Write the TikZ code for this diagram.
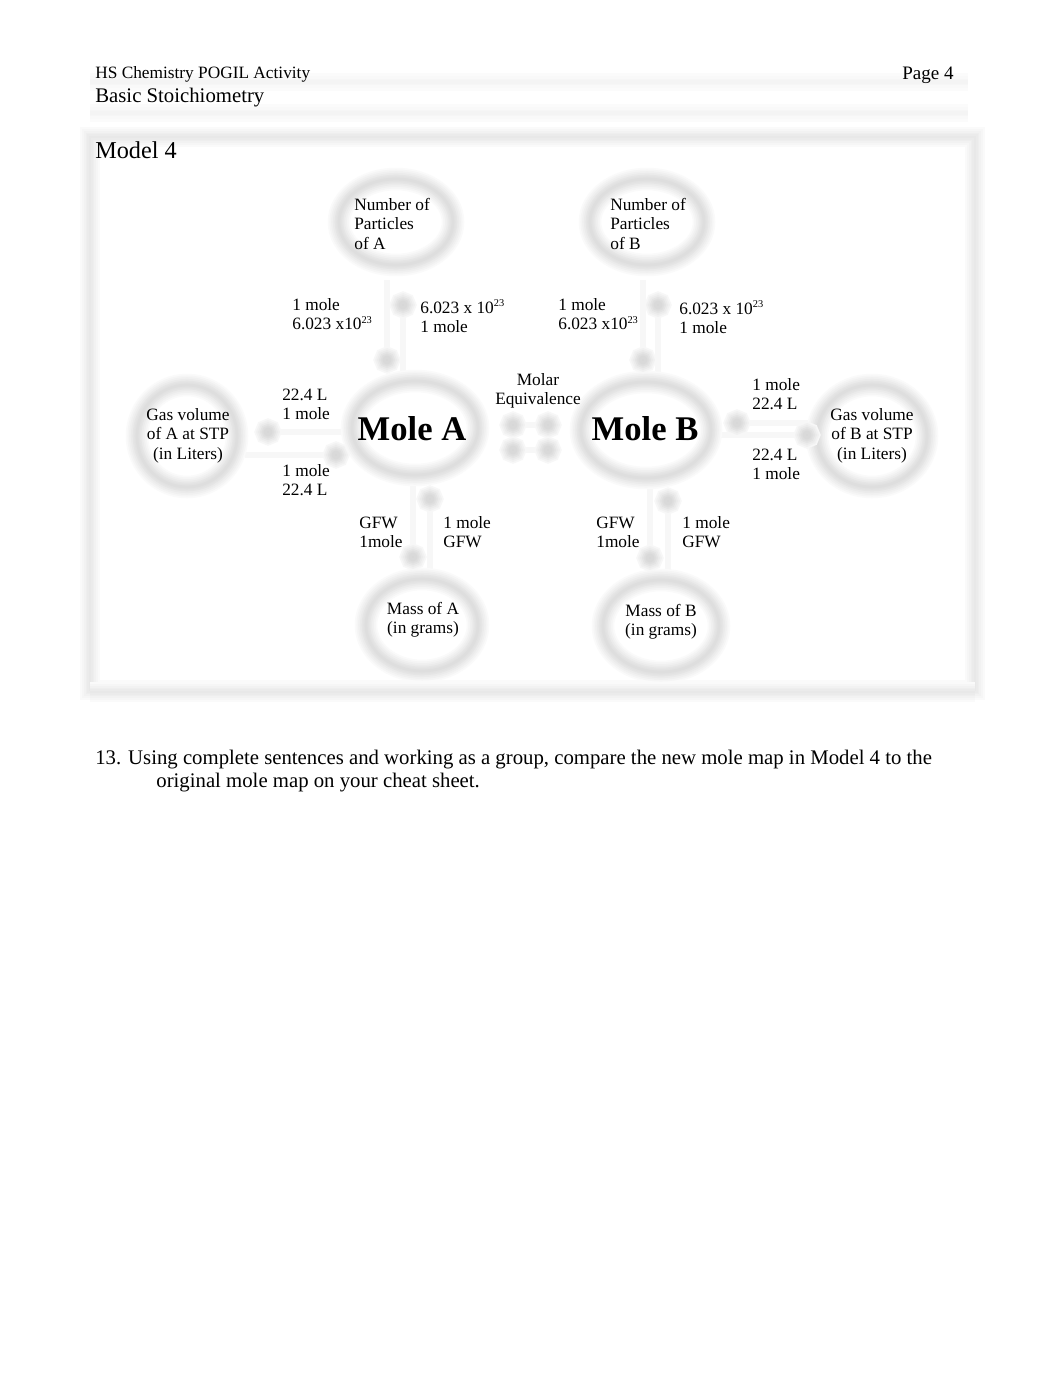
\documentclass[tikz,border=0pt]{standalone}
\usepackage{fontspec}
\setmainfont{Liberation Serif}
\usetikzlibrary{shapes.geometric}
\pgfdeclarelayer{background}
\pgfsetlayers{background,main}
\newdimen\pxu \pxu=0.578pt
\newcommand{\supnum}[1]{\raisebox{3.6pt}{\fontsize{6}{6}\selectfont #1}}
\begin{document}
\begin{tikzpicture}[x=0.578pt,y=-0.578pt,
  ring/.style={ellipse, inner sep=0pt,
    preaction={draw=black!2,line width=13pt},
    preaction={draw=black!4,line width=11pt},
    preaction={draw=black!6,line width=9pt},
    preaction={draw=black!8,line width=7pt},
    preaction={draw=black!10,line width=5pt},
    preaction={draw=black!11.5,line width=3.2pt},
    draw=black!13,line width=1.6pt},
  blurline/.style={
    preaction={draw=black!2,line width=11pt},
    preaction={draw=black!3.5,line width=9pt},
    preaction={draw=black!5,line width=7pt},
    preaction={draw=black!6.5,line width=5pt},
    preaction={draw=black!8,line width=3pt},
    draw=black!9,line width=1.5pt},
  faintline/.style={
    preaction={draw=black!1.5,line width=10pt},
    preaction={draw=black!2.5,line width=7pt},
    preaction={draw=black!3.5,line width=4pt},
    draw=black!4.5,line width=2pt},
  arrline/.style={draw=black!3, line width=4pt},
  blob/.style={circle, inner sep=0pt, minimum size=3pt, fill=black!16,
    preaction={draw=black!3,line width=12pt},
    preaction={draw=black!5.5,line width=10pt},
    preaction={draw=black!8,line width=8pt},
    preaction={draw=black!10.5,line width=6pt},
    preaction={draw=black!13,line width=4pt},
    draw=black!15, line width=2pt},
  lbl/.style={font=\fontsize{10}{11.5}\selectfont, align=left, inner sep=0pt, anchor=west},
  ctext/.style={font=\fontsize{10}{11.5}\selectfont, align=center, inner sep=0pt, anchor=center},
  bigtext/.style={font=\fontsize{20}{24}\selectfont\bfseries, inner sep=0pt, anchor=center}
]
\begin{pgfonlayer}{background}
\fill[white] (0,0) rectangle (1062,1376);
\end{pgfonlayer}
\useasboundingbox (0,0) rectangle (1062,1376);

% header
\draw[faintline] (90,82) -- (968,82);
\draw[faintline] (90,113) -- (968,113);
\node[anchor=west, inner sep=0pt, font=\fontsize{10}{11.5}\selectfont] (hd1) at (95,75) {\strut HS Chemistry POGIL Activity};
\node[anchor=east, inner sep=0pt, font=\fontsize{11}{12.5}\selectfont] (hd2) at (954,75) {\strut Page 4};
\node[anchor=west, inner sep=0pt, font=\fontsize{12}{13.8}\selectfont] (hd3) at (95,98) {\strut Basic Stoichiometry};

% model frame
\draw[blurline] (90,137) rectangle (975,690);
\draw[blurline] (90,692) -- (975,692);
\node[anchor=west, inner sep=0pt, font=\fontsize{14}{16}\selectfont] (title) at (95,153) {\strut Model 4};

% rings
\node[ring, minimum width=114*\pxu, minimum height=86*\pxu] (partA) at (396,222) {};
\node[ring, minimum width=114*\pxu, minimum height=86*\pxu] (partB) at (647,222) {};
\node[ring, minimum width=126*\pxu, minimum height=94*\pxu] (moleA) at (415,428) {};
\node[ring, minimum width=130*\pxu, minimum height=96*\pxu] (moleB) at (646,430) {};
\node[ring, minimum width=100*\pxu, minimum height=102*\pxu] (gasA) at (187,436) {};
\node[ring, minimum width=110*\pxu, minimum height=102*\pxu] (gasB) at (872,436) {};
\node[ring, minimum width=112*\pxu, minimum height=92*\pxu] (massA) at (422,625) {};
\node[ring, minimum width=116*\pxu, minimum height=92*\pxu] (massB) at (661,626) {};

% arrow tails
\coordinate (s1) at (403,372);
\coordinate (s2) at (387,280);
\coordinate (s3) at (658,372);
\coordinate (s4) at (643,280);
\coordinate (s5) at (345,432);
\coordinate (s6) at (245,455);
\coordinate (s7) at (820,423);
\coordinate (s8) at (720,435);
\coordinate (s9) at (430,578);
\coordinate (s10) at (413,482);
\coordinate (s11) at (668,580);
\coordinate (s12) at (650,484);

% arrow heads (blurred)
\node[blob] (h1) at (403,305) {};
\node[blob] (h2) at (387,360) {};
\node[blob] (h3) at (658,305) {};
\node[blob] (h4) at (643,360) {};
\node[blob] (h5) at (268,432) {};
\node[blob] (h6) at (336,455) {};
\node[blob] (h7) at (737,423) {};
\node[blob] (h8) at (807,435) {};
\node[blob] (h9) at (430,499) {};
\node[blob] (h10) at (413,557) {};
\node[blob] (h11) at (668,501) {};
\node[blob] (h12) at (650,558) {};
\node[blob] (e1) at (513,425) {};
\node[blob] (e2) at (548,425) {};
\node[blob] (e3) at (513,450) {};
\node[blob] (e4) at (548,450) {};

% connector lines (under the heads)
\begin{pgfonlayer}{background}
\draw[arrline] (s1) -- (h1.center);
\draw[arrline] (s2) -- (h2.center);
\draw[arrline] (s3) -- (h3.center);
\draw[arrline] (s4) -- (h4.center);
\draw[arrline] (s5) -- (h5.center);
\draw[arrline] (s6) -- (h6.center);
\draw[arrline] (s7) -- (h7.center);
\draw[arrline] (s8) -- (h8.center);
\draw[arrline] (s9) -- (h9.center);
\draw[arrline] (s10) -- (h10.center);
\draw[arrline] (s11) -- (h11.center);
\draw[arrline] (s12) -- (h12.center);
\draw[arrline] (e1.center) -- (e2.center);
\draw[arrline] (e3.center) -- (e4.center);
\end{pgfonlayer}

% texts in rings
\node[lbl] (tpartA) at (354,226) {\strut Number of\\\strut Particles\\\strut of A};
\node[lbl] (tpartB) at (610,226) {\strut Number of\\\strut Particles\\\strut of B};
\node[bigtext] (tmoleA) at (412,429) {Mole A};
\node[bigtext] (tmoleB) at (645,429) {Mole B};
\node[ctext] (tgasA) at (188,436) {\strut Gas volume\\\strut of A at STP\\\strut (in Liters)};
\node[ctext] (tgasB) at (872,436) {\strut Gas volume\\\strut of B at STP\\\strut (in Liters)};
\node[ctext] (tmassA) at (423,620) {\strut Mass of A\\\strut (in grams)};
\node[ctext] (tmassB) at (661,622) {\strut Mass of B\\\strut (in grams)};
\node[ctext] (molar) at (538,391) {\strut Molar\\\strut Equivalence};

% conversion labels
\node[lbl] (lA1) at (292,316) {\strut 1 mole\\\strut 6.023 x10\supnum{23}};
\node[lbl] (lA2) at (420,319) {\strut 6.023 x 10\supnum{23}\\\strut 1 mole};
\node[lbl] (lB1) at (558,316) {\strut 1 mole\\\strut 6.023 x10\supnum{23}};
\node[lbl] (lB2) at (679,320) {\strut 6.023 x 10\supnum{23}\\\strut 1 mole};
\node[lbl] (gA1) at (282,406) {\strut 22.4 L\\\strut 1 mole};
\node[lbl] (gA2) at (282,482) {\strut 1 mole\\\strut 22.4 L};
\node[lbl] (gB1) at (752,396) {\strut 1 mole\\\strut 22.4 L};
\node[lbl] (gB2) at (752,466) {\strut 22.4 L\\\strut 1 mole};
\node[lbl] (mA1) at (359,534) {\strut GFW\\\strut 1mole};
\node[lbl] (mA2) at (443,534) {\strut 1 mole\\\strut GFW};
\node[lbl] (mB1) at (596,534) {\strut GFW\\\strut 1mole};
\node[lbl] (mB2) at (682,534) {\strut 1 mole\\\strut GFW};

% question
\node[anchor=west, inner sep=0pt, align=left, font=\fontsize{12}{13.3}\selectfont] (q13) at (95,771)
  {\strut 13. Using complete sentences and working as a group, compare the new mole map in Model 4 to the\\
   \hspace*{35.3pt}\strut original mole map on your cheat sheet.};
\end{tikzpicture}
\end{document}
